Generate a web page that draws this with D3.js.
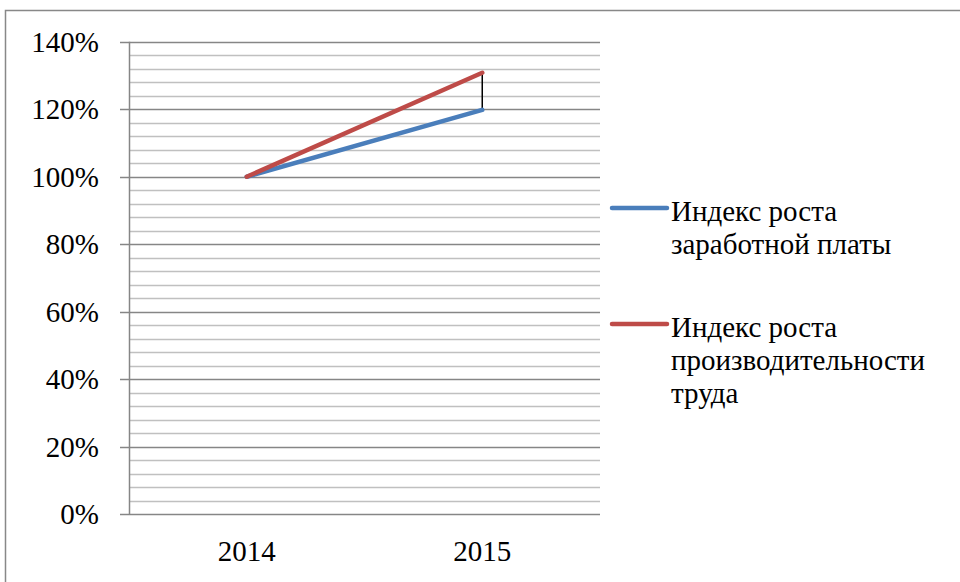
<!DOCTYPE html>
<html>
<head>
<meta charset="utf-8">
<script src="https://cdn.jsdelivr.net/npm/d3@7"></script>
<style>
  body { margin: 0; background: #fff; }
</style>
</head>
<body>
<div id="chart"></div>
<script>
// data
var years = ["2014", "2015"];
var wageIndex = [1.0, 1.198];
var productivityIndex = [1.0, 1.308];
var seriesNames = [
  ["Индекс роста", "заработной платы"],
  ["Индекс роста", "производительности", "труда"]
];
var seriesColors = ["#4a7ebb", "#be4b48"];
var yTicks = [0, 0.2, 0.4, 0.6, 0.8, 1.0, 1.2, 1.4];

var width = 960, height = 582;
var plotLeft = 129, plotRight = 600, plotTop = 41.7, plotBottom = 514.3;
var serif = "'Times New Roman', 'Liberation Serif', 'DejaVu Serif', serif";

var svg = d3.select("#chart").append("svg")
    .attr("width", width)
    .attr("height", height)
    .attr("font-family", serif);

// outer frame
svg.append("rect")
    .attr("x", 5.5).attr("y", 10.5)
    .attr("width", 980).attr("height", 600)
    .attr("fill", "none")
    .attr("stroke", "#888")
    .attr("stroke-width", 1.5);

var x = d3.scaleBand().domain(years).range([plotLeft, plotRight]);
var y = d3.scaleLinear().domain([0, 1.4]).range([plotBottom, plotTop]);

// minor gridlines every 4%
var minor = d3.range(1, 35).filter(k => k % 5 !== 0).map(k => k * 0.04);
svg.append("g").selectAll("line")
    .data(minor)
    .enter().append("line")
    .attr("x1", plotLeft).attr("x2", plotRight)
    .attr("y1", d => Math.round(y(d)) + 0.5)
    .attr("y2", d => Math.round(y(d)) + 0.5)
    .attr("stroke", "#c0c0c0")
    .attr("stroke-width", 1.5);

// major gridlines
svg.append("g").selectAll("line")
    .data(yTicks)
    .enter().append("line")
    .attr("x1", plotLeft - 9).attr("x2", plotRight)
    .attr("y1", d => Math.round(y(d)) + 0.5)
    .attr("y2", d => Math.round(y(d)) + 0.5)
    .attr("stroke", "#868686")
    .attr("stroke-width", 1.5);

// y axis line
svg.append("line")
    .attr("x1", plotLeft + 0.5).attr("x2", plotLeft + 0.5)
    .attr("y1", plotTop).attr("y2", plotBottom)
    .attr("stroke", "#868686")
    .attr("stroke-width", 1.5);

// y labels
svg.append("g").selectAll("text")
    .data(yTicks)
    .enter().append("text")
    .attr("x", 99)
    .attr("y", d => y(d) + 10)
    .attr("text-anchor", "end")
    .attr("font-size", 29)
    .text(d => Math.round(d * 100) + "%");

// x labels
svg.append("g").selectAll("text")
    .data(years)
    .enter().append("text")
    .attr("x", d => x(d) + x.bandwidth() / 2)
    .attr("y", 561)
    .attr("text-anchor", "middle")
    .attr("font-size", 29)
    .text(d => d);

// high-low line
var last = years[years.length - 1];
svg.append("line")
    .attr("x1", x(last) + x.bandwidth() / 2)
    .attr("x2", x(last) + x.bandwidth() / 2)
    .attr("y1", y(wageIndex[1]))
    .attr("y2", y(productivityIndex[1]))
    .attr("stroke", "#000")
    .attr("stroke-width", 1.5);

var line = d3.line()
    .x((d, i) => x(years[i]) + x.bandwidth() / 2)
    .y(d => y(d));

[wageIndex, productivityIndex].forEach(function (s, i) {
  svg.append("path")
      .datum(s)
      .attr("d", line)
      .attr("fill", "none")
      .attr("stroke", seriesColors[i])
      .attr("stroke-width", 4.5)
      .attr("stroke-linecap", "round");
});

// legend
var legendY = [208, 324];
seriesNames.forEach(function (lines, i) {
  var g = svg.append("g").attr("transform", "translate(0," + legendY[i] + ")");
  g.append("line")
      .attr("x1", 612).attr("x2", 667)
      .attr("y1", 0).attr("y2", 0)
      .attr("stroke", seriesColors[i])
      .attr("stroke-width", 4.5)
      .attr("stroke-linecap", "round");
  g.selectAll("text")
      .data(lines)
      .enter().append("text")
      .attr("x", 671)
      .attr("y", (d, j) => 13 + j * 33)
      .attr("font-size", 29)
      .text(d => d);
});
</script>
</body>
</html>
